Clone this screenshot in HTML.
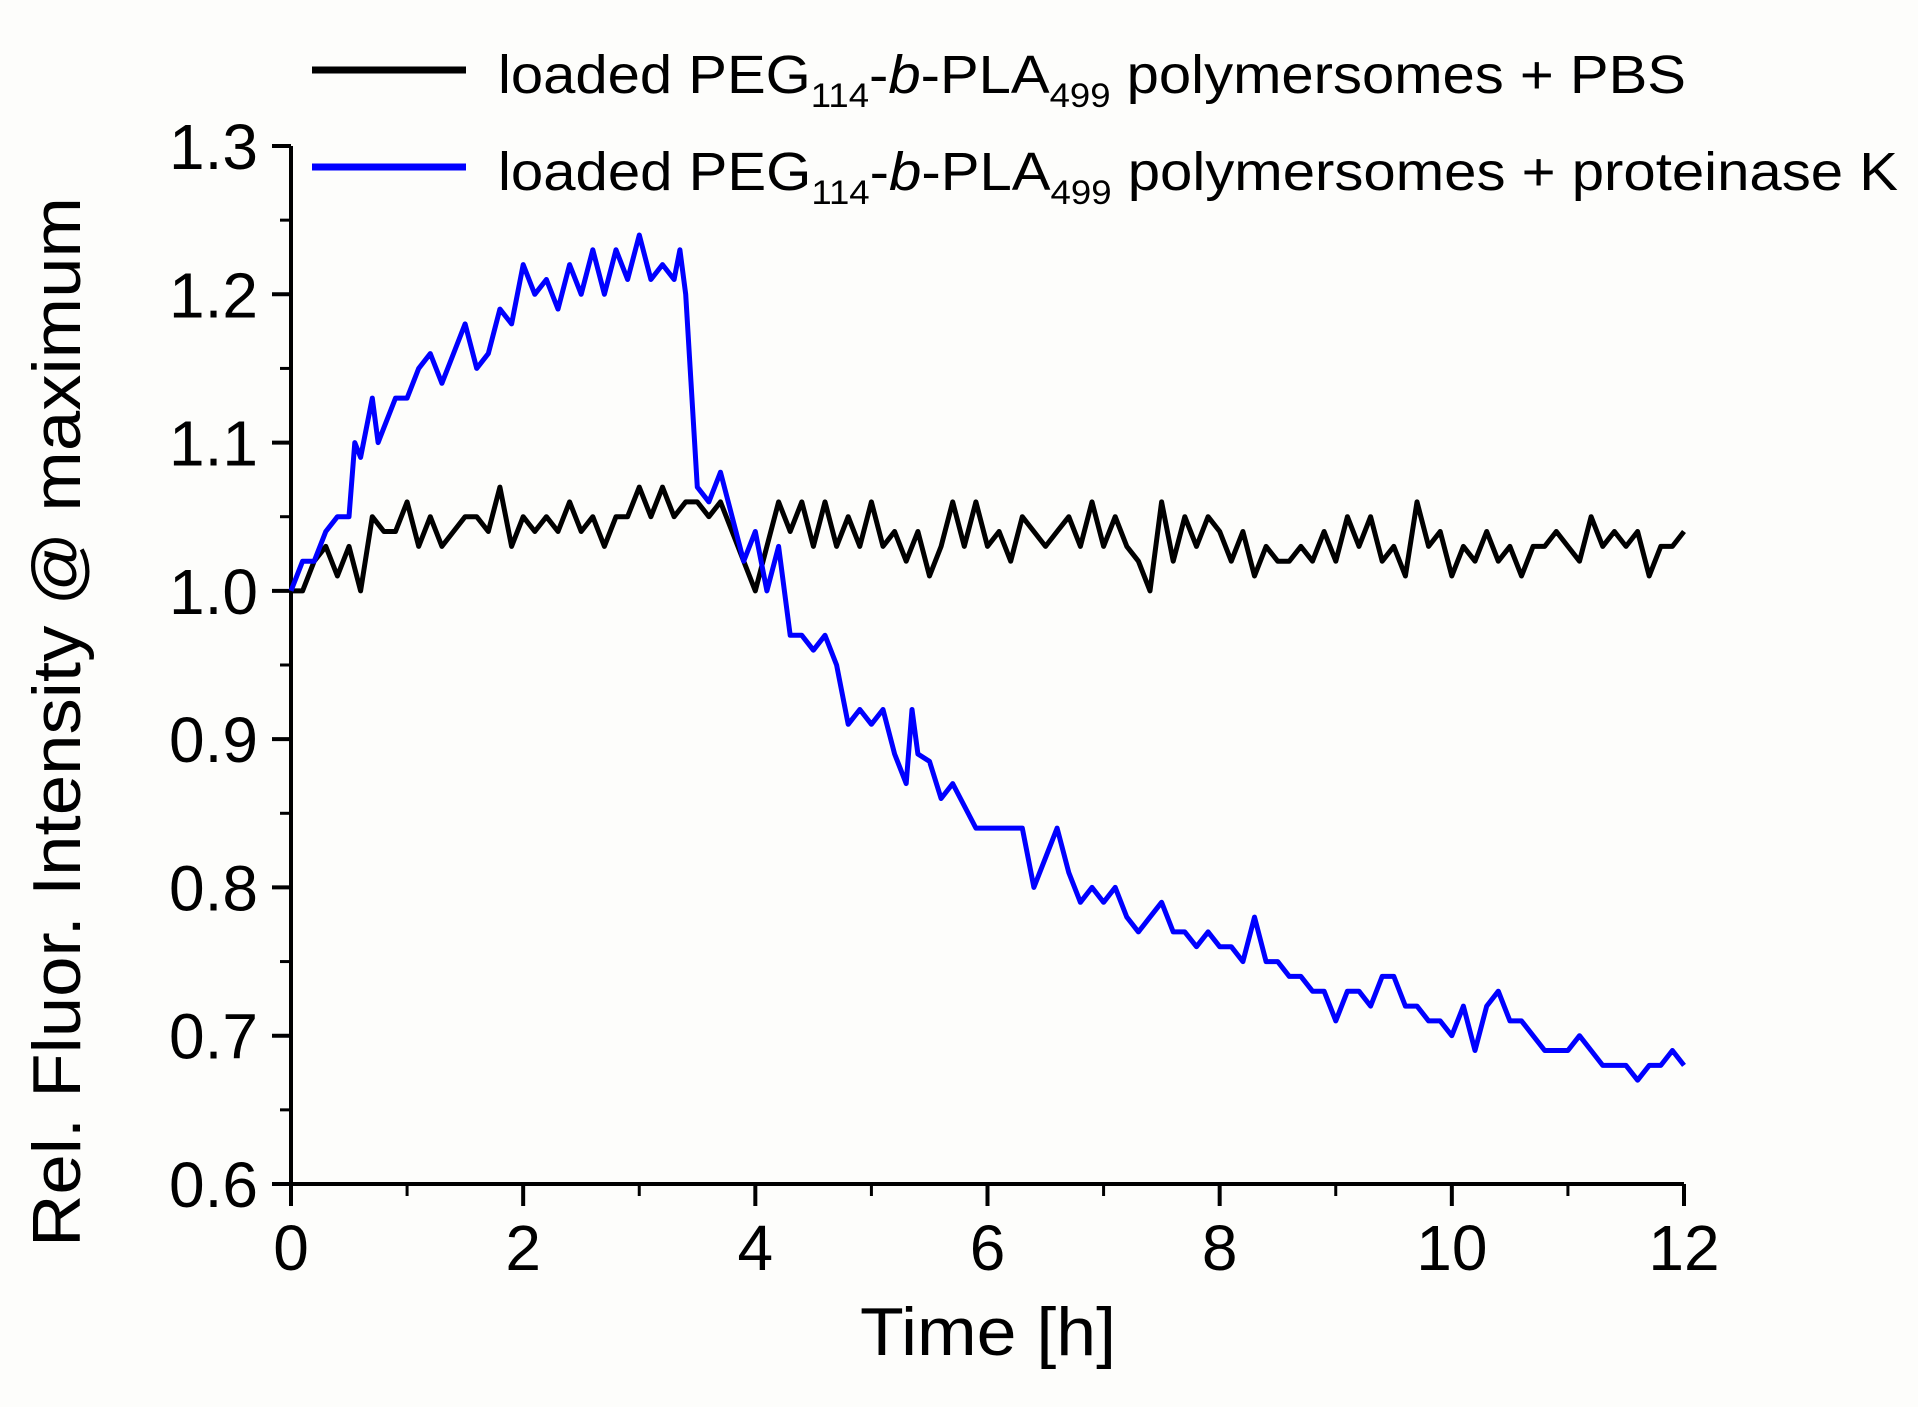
<!DOCTYPE html>
<html><head><meta charset="utf-8"><style>
html,body{margin:0;padding:0;background:#fdfdfb;}
svg{display:block;font-family:"Liberation Sans",sans-serif;}
</style></head><body>
<svg id="chart" width="1918" height="1407" viewBox="0 0 1918 1407" xmlns="http://www.w3.org/2000/svg">
<rect x="0" y="0" width="1918" height="1407" fill="#fdfdfb"/>
<g id="legend">
 <g>
  <line x1="312" y1="70" x2="466" y2="70" stroke="#000" stroke-width="7"/>
  <text x="498" y="93" font-size="54" textLength="1188" lengthAdjust="spacingAndGlyphs">loaded PEG<tspan font-size="34" dy="14">114</tspan><tspan dy="-14">-</tspan><tspan font-style="italic">b</tspan>-PLA<tspan font-size="34" dy="14">499</tspan><tspan dy="-14"> polymersomes + PBS</tspan></text>
 </g>
 <g>
  <line x1="312" y1="167" x2="466" y2="167" stroke="#0000ff" stroke-width="7"/>
  <text x="498" y="190" font-size="54" textLength="1400" lengthAdjust="spacingAndGlyphs">loaded PEG<tspan font-size="34" dy="14">114</tspan><tspan dy="-14">-</tspan><tspan font-style="italic">b</tspan>-PLA<tspan font-size="34" dy="14">499</tspan><tspan dy="-14"> polymersomes + proteinase K</tspan></text>
 </g>
</g>
<g id="axes"></g>
<g id="series"></g>
<text x="988" y="1355" font-size="68" text-anchor="middle" textLength="256" lengthAdjust="spacingAndGlyphs">Time [h]</text>
<text transform="translate(80,722) rotate(-90)" x="0" y="0" font-size="68" text-anchor="middle" textLength="1050" lengthAdjust="spacingAndGlyphs">Rel. Fluor. Intensity @ maximum</text>
</svg>
<script>
const xTicks=[0,2,4,6,8,10,12];
const yTicks=[0.6,0.7,0.8,0.9,1.0,1.1,1.2,1.3];
const yTickLabels=["0.6","0.7","0.8","0.9","1.0","1.1","1.2","1.3"];
const pbsTime=[0,0.1,0.2,0.3,0.4,0.5,0.6,0.7,0.8,0.9,1.0,1.1,1.2,1.3,1.4,1.5,1.6,1.7,1.8,1.9,2.0,2.1,2.2,2.3,2.4,2.5,2.6,2.7,2.8,2.9,3.0,3.1,3.2,3.3,3.4,3.5,3.6,3.7,3.8,3.9,4.0,4.1,4.2,4.3,4.4,4.5,4.6,4.7,4.8,4.9,5.0,5.1,5.2,5.3,5.4,5.5,5.6,5.7,5.8,5.9,6.0,6.1,6.2,6.3,6.4,6.5,6.6,6.7,6.8,6.9,7.0,7.1,7.2,7.3,7.4,7.5,7.6,7.7,7.8,7.9,8.0,8.1,8.2,8.3,8.4,8.5,8.6,8.7,8.8,8.9,9.0,9.1,9.2,9.3,9.4,9.5,9.6,9.7,9.8,9.9,10.0,10.1,10.2,10.3,10.4,10.5,10.6,10.7,10.8,10.9,11.0,11.1,11.2,11.3,11.4,11.5,11.6,11.7,11.8,11.9,12];
const pbsValues=[1.0,1.0,1.02,1.03,1.01,1.03,1.0,1.05,1.04,1.04,1.06,1.03,1.05,1.03,1.04,1.05,1.05,1.04,1.07,1.03,1.05,1.04,1.05,1.04,1.06,1.04,1.05,1.03,1.05,1.05,1.07,1.05,1.07,1.05,1.06,1.06,1.05,1.06,1.04,1.02,1.0,1.03,1.06,1.04,1.06,1.03,1.06,1.03,1.05,1.03,1.06,1.03,1.04,1.02,1.04,1.01,1.03,1.06,1.03,1.06,1.03,1.04,1.02,1.05,1.04,1.03,1.04,1.05,1.03,1.06,1.03,1.05,1.03,1.02,1.0,1.06,1.02,1.05,1.03,1.05,1.04,1.02,1.04,1.01,1.03,1.02,1.02,1.03,1.02,1.04,1.02,1.05,1.03,1.05,1.02,1.03,1.01,1.06,1.03,1.04,1.01,1.03,1.02,1.04,1.02,1.03,1.01,1.03,1.03,1.04,1.03,1.02,1.05,1.03,1.04,1.03,1.04,1.01,1.03,1.03,1.04];
const pkTime=[0,0.1,0.2,0.3,0.4,0.5,0.55,0.6,0.7,0.75,0.8,0.9,1.0,1.1,1.2,1.3,1.4,1.5,1.6,1.7,1.8,1.9,2.0,2.1,2.2,2.3,2.4,2.5,2.6,2.7,2.8,2.9,3.0,3.1,3.2,3.3,3.35,3.4,3.5,3.6,3.7,3.8,3.9,4.0,4.1,4.2,4.3,4.4,4.5,4.6,4.7,4.8,4.9,5.0,5.1,5.2,5.3,5.35,5.4,5.5,5.6,5.7,5.8,5.9,6.0,6.1,6.2,6.3,6.4,6.5,6.6,6.7,6.8,6.9,7.0,7.1,7.2,7.3,7.4,7.5,7.6,7.7,7.8,7.9,8.0,8.1,8.2,8.3,8.4,8.5,8.6,8.7,8.8,8.9,9.0,9.1,9.2,9.3,9.4,9.5,9.6,9.7,9.8,9.9,10.0,10.1,10.2,10.3,10.4,10.5,10.6,10.7,10.8,10.9,11.0,11.1,11.2,11.3,11.4,11.5,11.6,11.7,11.8,11.9,12];
const pkValues=[1.0,1.02,1.02,1.04,1.05,1.05,1.1,1.09,1.13,1.1,1.11,1.13,1.13,1.15,1.16,1.14,1.16,1.18,1.15,1.16,1.19,1.18,1.22,1.2,1.21,1.19,1.22,1.2,1.23,1.2,1.23,1.21,1.24,1.21,1.22,1.21,1.23,1.2,1.07,1.06,1.08,1.05,1.02,1.04,1.0,1.03,0.97,0.97,0.96,0.97,0.95,0.91,0.92,0.91,0.92,0.89,0.87,0.92,0.89,0.885,0.86,0.87,0.855,0.84,0.84,0.84,0.84,0.84,0.8,0.82,0.84,0.81,0.79,0.8,0.79,0.8,0.78,0.77,0.78,0.79,0.77,0.77,0.76,0.77,0.76,0.76,0.75,0.78,0.75,0.75,0.74,0.74,0.73,0.73,0.71,0.73,0.73,0.72,0.74,0.74,0.72,0.72,0.71,0.71,0.70,0.72,0.69,0.72,0.73,0.71,0.71,0.7,0.69,0.69,0.69,0.7,0.69,0.68,0.68,0.68,0.67,0.68,0.68,0.69,0.68];

const NS="http://www.w3.org/2000/svg";
const X0=291,X1=1684,Y0=1184,Y1=146;
function sx(t){return X0+(t-0)/(12-0)*(X1-X0);}
function sy(v){return Y0-(v-0.6)/(1.3-0.6)*(Y0-Y1);}
function mk(tag,attrs,parent){const e=document.createElementNS(NS,tag);for(const k in attrs)e.setAttribute(k,attrs[k]);parent.appendChild(e);return e;}
const axes=document.getElementById('axes');
const yAxis=mk('line',{x1:X0,y1:Y1,x2:X0,y2:Y0+2,stroke:'#000','stroke-width':4},axes);


const xAxis=mk('line',{x1:X0-2,y1:Y0,x2:X1,y2:Y0,stroke:'#000','stroke-width':4},axes);


yTicks.forEach((v,i)=>{
  const y=sy(v);
  const t=mk('line',{x1:X0-19,y1:y,x2:X0,y2:y,stroke:'#000','stroke-width':4},axes);
  
  
  if(i<yTicks.length-1){
    const m=mk('line',{x1:X0-11,y1:sy(v+0.05),x2:X0,y2:sy(v+0.05),stroke:'#000','stroke-width':3},axes);
    
    
  }
  const l=mk('text',{x:X0-33,y:y+23,'font-size':64,'text-anchor':'end'},axes);
  l.textContent=yTickLabels[i];
  
  
});
xTicks.forEach((v,i)=>{
  const x=sx(v);
  const t=mk('line',{x1:x,y1:Y0,x2:x,y2:Y0+22,stroke:'#000','stroke-width':4},axes);
  
  
  if(i<xTicks.length-1){
    const m=mk('line',{x1:sx(v+1),y1:Y0,x2:sx(v+1),y2:Y0+12,stroke:'#000','stroke-width':3},axes);
    
    
  }
  const l=mk('text',{x:x,y:1270,'font-size':64,'text-anchor':'middle'},axes);
  l.textContent=String(v);
  
  
});
const series=document.getElementById('series');
function path(ts,vs){return ts.map((t,i)=>(i?'L':'M')+sx(t).toFixed(1)+' '+sy(vs[i]).toFixed(1)).join(' ');}
const p1=mk('path',{d:path(pbsTime,pbsValues),fill:'none',stroke:'#000','stroke-width':5,'stroke-linejoin':'round'},series);


const p2=mk('path',{d:path(pkTime,pkValues),fill:'none',stroke:'#0000ff','stroke-width':5,'stroke-linejoin':'round'},series);


</script>
</body></html>
